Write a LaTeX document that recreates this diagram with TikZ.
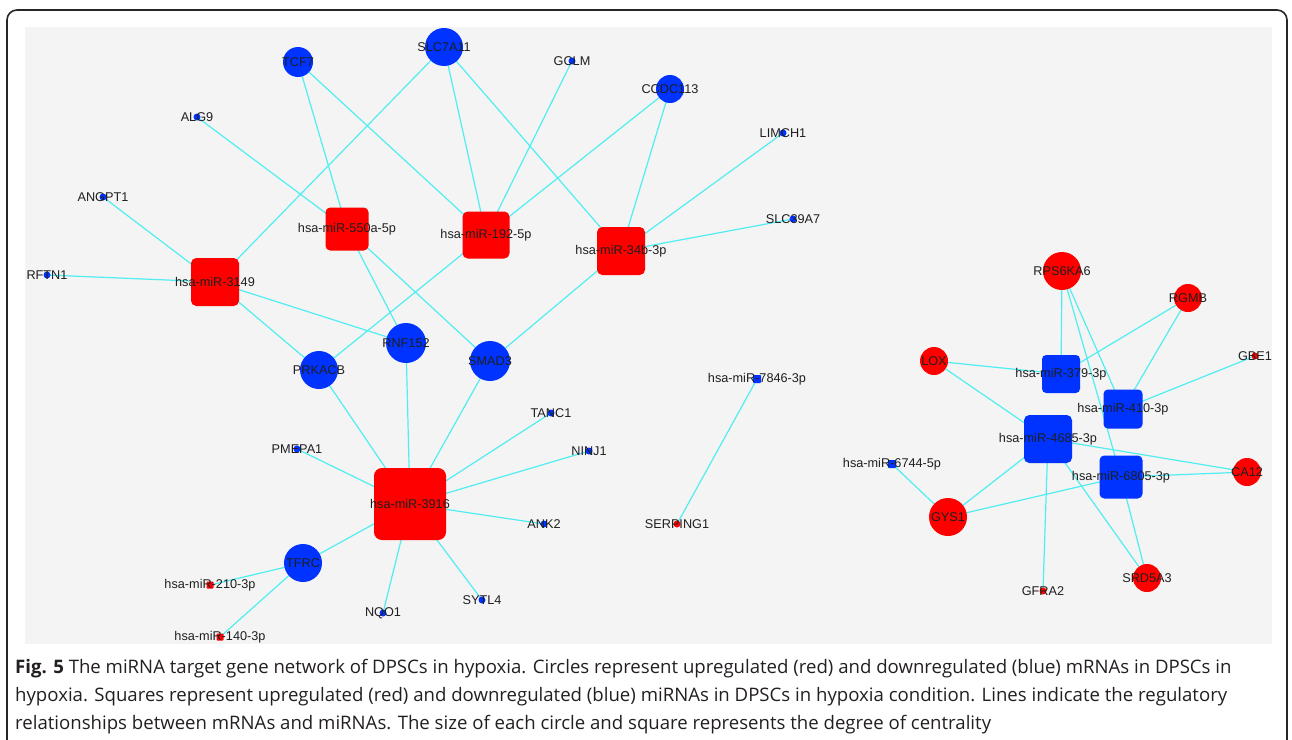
\documentclass[tikz,border=0pt]{standalone}
\usepackage{fontspec}
\setmainfont{Liberation Sans}
\newfontfamily\capfont{Open Sans}
\usetikzlibrary{calc}
\definecolor{upred}{RGB}{255,0,0}
\definecolor{downblue}{RGB}{0,51,255}
\definecolor{linkcyan}{RGB}{80,238,242}
\definecolor{panelgray}{RGB}{244,244,244}
\definecolor{captext}{RGB}{35,31,32}
\pgfdeclarelayer{panel}
\pgfdeclarelayer{edges}
\pgfsetlayers{panel,edges,main}
\tikzset{
  mrna/.style={circle,inner sep=0pt,minimum size=#1},
  mirna/.style={rectangle,inner sep=0pt,minimum size=#1,rounded corners=0.11*#1},
  up/.style={fill=upred},
  down/.style={fill=downblue},
  tag/.style={font=\fontsize{12.7}{14}\selectfont,text=black!88,inner sep=0pt},
  link/.style={draw=linkcyan,line width=1.2pt},
  capline/.style={anchor=base west,inner sep=0pt,text=captext,
    font=\capfont\fontsize{18.6}{21}\selectfont}
}

\begin{document}
\begin{tikzpicture}[x=1pt,y=-1pt]
\useasboundingbox (0,0) rectangle (1292,739);
\clip (0,0) rectangle (1292,739);
\draw[line width=1.6pt,draw=black!85,rounded corners=10pt] (7,10) rectangle (1287,770);
\begin{pgfonlayer}{panel}
\fill[panelgray] (25,27) rectangle (1272,644);
\end{pgfonlayer}
% mRNAs
\foreach \n/\x/\y/\s in {TCF7/298/62/30,SLC7A11/444/47/38,CCDC113/670/89/28,
    RNF152/406/343/40,PRKACB/319/370/38,SMAD3/490/361/40,TFRC/303/563/38,
    GCLM/572/61/7,ALG9/197/117/7,LIMCH1/783/133/7,ANGPT1/103/197/7,
    SLC39A7/793/219/7,RFTN1/47/275/7,PMEPA1/297/449/7,TANC1/551/413/7,
    NINJ1/589/451/7,ANK2/544/524/7,SYTL4/482/600/7,NQO1/383/613/7}
  \node[mrna=\s,down,label={[tag]center:\n}] (\n) at (\x,\y) {};
\foreach \n/\x/\y/\s in {RPS6KA6/1062/271/38,RGMB/1188/298/28,LOX/934/361/28,
    CA12/1247/472/28,GYS1/948/517/38,SRD5A3/1147/578/28,
    SERPING1/677/524/7,GBE1/1255/356/7,GFRA2/1043/591/7}
  \node[mrna=\s,up,label={[tag]center:\n}] (\n) at (\x,\y) {};
% miRNAs
\foreach \n/\t/\x/\y/\s in {m550/550a-5p/347/229/43,m3149/3149/215/282/48,
    m192/192-5p/486/235/47,m34b/34b-3p/621/251/48,m3916/3916/410/504/72,
    m210/210-3p/210/585/7,m140/140-3p/220/637/7}
  \node[mirna=\s,up,label={[tag]center:hsa-miR-\t}] (\n) at (\x,\y) {};
\foreach \n/\t/\x/\y/\s in {m379/379-3p/1061/374/38,m410/410-3p/1123/409/39,
    m4685/4685-3p/1048/439/48,m6805/6805-3p/1121/477/43,
    m7846/7846-3p/757/379/8,m6744/6744-5p/892/464/8}
  \node[mirna=\s,down,label={[tag]center:hsa-miR-\t}] (\n) at (\x,\y) {};
\begin{pgfonlayer}{edges}
\foreach \a/\b in {TCF7/m550,TCF7/m192,SLC7A11/m3149,SLC7A11/m192,SLC7A11/m34b,
    GCLM/m192,CCDC113/m192,CCDC113/m34b,LIMCH1/m34b,SLC39A7/m34b,ALG9/m550,
    ANGPT1/m3149,RFTN1/m3149,m3149/RNF152,m3149/PRKACB,m550/RNF152,m550/SMAD3,
    m192/PRKACB,m34b/SMAD3,PRKACB/m3916,RNF152/m3916,SMAD3/m3916,PMEPA1/m3916,
    TANC1/m3916,NINJ1/m3916,ANK2/m3916,SYTL4/m3916,NQO1/m3916,TFRC/m3916,
    TFRC/m210,TFRC/m140,m7846/SERPING1,
    RPS6KA6/m379,RPS6KA6/m410,RPS6KA6/m6805,RGMB/m379,RGMB/m410,LOX/m379,
    LOX/m4685,GBE1/m410,m4685/CA12,m6805/CA12,m4685/GYS1,m6805/GYS1,
    m4685/GFRA2,m4685/SRD5A3,m6805/SRD5A3,m6744/GYS1}
  \draw[link] (\a.center) -- (\b.center);
\end{pgfonlayer}
% caption
\node[capline] (cap1) at (15,673) {\textbf{Fig. 5} The miRNA target gene network of DPSCs in hypoxia. Circles represent upregulated (red) and downregulated (blue) mRNAs in DPSCs in};
\node[capline] (cap2) at (15,701) {hypoxia. Squares represent upregulated (red) and downregulated (blue) miRNAs in DPSCs in hypoxia condition. Lines indicate the regulatory};
\node[capline] (cap3) at (15,729) {relationships between mRNAs and miRNAs. The size of each circle and square represents the degree of centrality};
\end{tikzpicture}
\end{document}
